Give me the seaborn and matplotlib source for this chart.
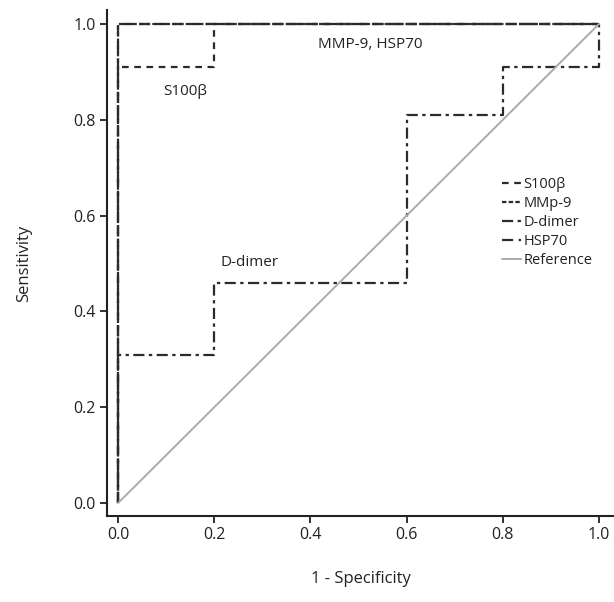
import matplotlib
matplotlib.use("Agg")
import matplotlib.pyplot as plt
import seaborn as sns
import pandas as pd

sns.set_theme(style="ticks")
plt.rcParams['font.family'] = ['Open Sans', 'DejaVu Sans']

# ROC coordinates (1 - specificity, sensitivity)
s100_x = [0.0, 0.0, 0.2, 0.2, 1.0]
s100_y = [0.0, 0.91, 0.91, 1.0, 1.0]
mmp9_x = [0.0, 0.0, 1.0]
mmp9_y = [0.0, 1.0, 1.0]
ddim_x = [0.0, 0.0, 0.2, 0.2, 0.6, 0.6, 0.8, 0.8, 1.0, 1.0]
ddim_y = [0.0, 0.31, 0.31, 0.46, 0.46, 0.81, 0.81, 0.91, 0.91, 1.0]
hsp_x = [0.0, 0.0, 1.0]
hsp_y = [0.0, 1.0, 1.0]
ref_x = [0.0, 1.0]
ref_y = [0.0, 1.0]

series_names = ["S100β", "MMp-9", "D-dimer", "HSP70", "Reference"]
xticks = [0.0, 0.2, 0.4, 0.6, 0.8, 1.0]
yticks = [0.0, 0.2, 0.4, 0.6, 0.8, 1.0]

fig = plt.figure(figsize=(6.14, 6.02), dpi=100)
ax = fig.add_axes([0.1743, 0.1429, 0.8257, 0.8405])

dark = "#2b2b2b"
styles = [
    (s100_x, s100_y, (0, (3.0, 2.5)), dark, 1.6),
    (mmp9_x, mmp9_y, (0, (2.0, 1.0)), dark, 1.6),
    (ddim_x, ddim_y, (0, (5.0, 2.0, 1.5, 2.0)), dark, 1.6),
    (hsp_x, hsp_y, (0, (5.0, 2.5)), dark, 1.6),
    (ref_x, ref_y, "-", "#ababab", 1.4),
]
for name, (xs, ys, ls, col, lw) in zip(series_names, styles):
    df = pd.DataFrame({"x": xs, "y": ys})
    sns.lineplot(data=df, x="x", y="y", sort=False, estimator=None, ax=ax,
                 color=col, linewidth=lw, linestyle=ls, label=name)

ax.set_xlim(-0.023, 1.031)
ax.set_ylim(-0.027, 1.029)
ax.set_xticks(xticks)
ax.set_yticks(yticks)
ax.set_xticklabels([f"{t:.1f}" for t in xticks])
ax.set_yticklabels([f"{t:.1f}" for t in yticks])
for s in ["top", "right"]:
    ax.spines[s].set_visible(False)
for s in ["left", "bottom"]:
    ax.spines[s].set_linewidth(1.5)
    ax.spines[s].set_color("#222222")
ax.tick_params(axis="both", direction="out", length=5, width=1.3,
               colors="#222222", labelsize=11.5, labelcolor="#222222", pad=3)

ax.set_xlabel("1 - Specificity", fontsize=12, color="#222222", labelpad=20)
ax.set_ylabel("Sensitivity", fontsize=12, color="#222222", labelpad=30)

ax.text(0.524, 0.956, "MMP-9, HSP70", ha="center", va="center", fontsize=11, color="#222222")
ax.text(0.139, 0.858, "S100β", ha="center", va="center", fontsize=11, color="#222222")
ax.text(0.274, 0.503, "D-dimer", ha="center", va="center", fontsize=11, color="#222222")

leg = ax.legend(loc="upper left", bbox_to_anchor=(0.765, 0.685), frameon=False,
                fontsize=10.5, handlelength=1.3, handletextpad=0.15,
                labelspacing=0.28, borderpad=0.0)
for t in leg.get_texts():
    t.set_color("#222222")

fig.savefig("out.png", dpi=100)
